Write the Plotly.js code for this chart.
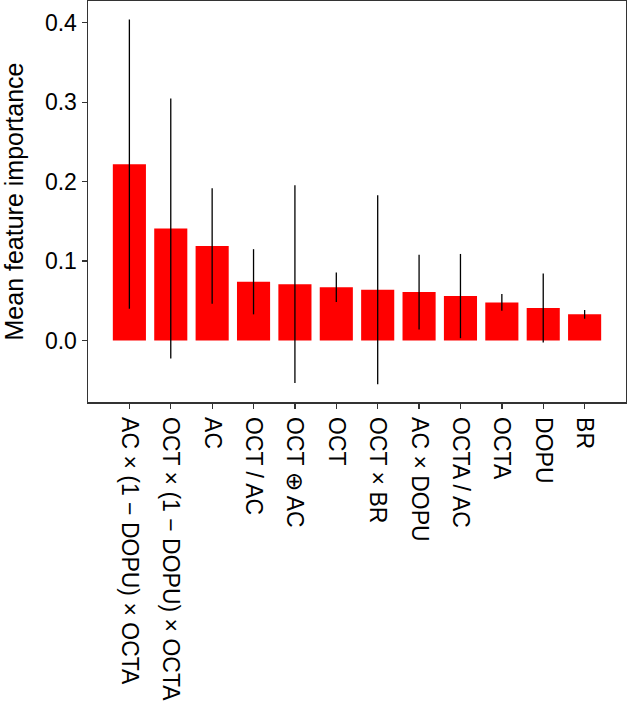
<!DOCTYPE html>
<html>
<head>
<meta charset="utf-8">
<script src="https://cdn.plot.ly/plotly-3.0.1.min.js"></script>
<style>
  html, body { margin: 0; padding: 0; background: white; }
  #chart { width: 627px; height: 725px; }
</style>
</head>
<body>
<div id="chart"></div>
<script>
// Feature names (x categories)
const features = [
  'AC × (1 − DOPU) × OCTA',
  'OCT × (1 − DOPU) × OCTA',
  'AC',
  'OCT / AC',
  'OCT ⊕ AC',
  'OCT',
  'OCT × BR',
  'AC × DOPU',
  'OCTA / AC',
  'OCTA',
  'DOPU',
  'BR'
];

// Mean importance per feature
const meanImportance = [0.222, 0.141, 0.119, 0.074, 0.071, 0.067, 0.064, 0.061, 0.056, 0.048, 0.041, 0.033];

// Standard deviation (error bar half-length)
const stdImportance = [0.182, 0.1635, 0.0727, 0.041, 0.1245, 0.0185, 0.119, 0.047, 0.053, 0.0105, 0.0435, 0.0055];

const yTicks = [0.0, 0.1, 0.2, 0.3, 0.4];

const trace = {
  type: 'bar',
  x: features.map((_, i) => i),
  y: meanImportance,
  width: 0.8,
  marker: { color: '#ff0000', line: { width: 0 } },
  error_y: {
    type: 'data',
    array: stdImportance,
    visible: true,
    color: '#000000',
    thickness: 1.3,
    width: 0
  },
  hoverinfo: 'skip'
};

const layout = {
  width: 627,
  height: 725,
  margin: { l: 88, r: 1, t: 1, b: 323 },
  paper_bgcolor: 'white',
  plot_bgcolor: 'white',
  showlegend: false,
  font: { family: 'Liberation Sans, Arial, sans-serif', color: '#000000', size: 23 },
  xaxis: {
    range: [-1, 12],
    tickmode: 'array',
    tickvals: features.map((_, i) => i),
    ticktext: features,
    tickangle: 90,
    ticks: 'outside',
    ticklen: 5,
    tickwidth: 1.3,
    tickcolor: '#333333',
    ticklabelstandoff: 4,
    showline: true,
    linecolor: '#333333',
    linewidth: 1.5,
    mirror: true,
    showgrid: false,
    zeroline: false,
    tickfont: { size: 23 },
    automargin: false
  },
  yaxis: {
    range: [-0.0773, 0.4273],
    tickmode: 'array',
    tickvals: yTicks,
    ticktext: yTicks.map(v => v.toFixed(1)),
    ticks: 'outside',
    ticklen: 5,
    tickwidth: 1.3,
    tickcolor: '#333333',
    showline: true,
    linecolor: '#333333',
    linewidth: 1.5,
    mirror: true,
    showgrid: false,
    zeroline: false,
    tickfont: { size: 23 },
    title: { text: 'Mean feature importance', font: { size: 25 }, standoff: 17 },
    automargin: false
  }
};

Plotly.newPlot('chart', [trace], layout, { displayModeBar: false, staticPlot: true });
</script>
</body>
</html>
